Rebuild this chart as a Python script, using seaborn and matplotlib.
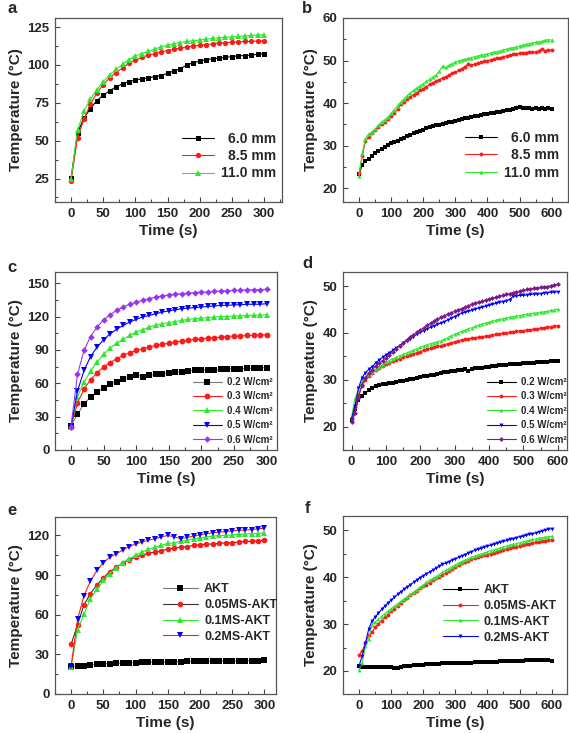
import numpy as np
import matplotlib
matplotlib.use("Agg")
import matplotlib.pyplot as plt
from matplotlib.ticker import AutoMinorLocator
import seaborn as sns

# ---- data ----
t_300 = np.arange(0, 301, 10)
t_600 = np.arange(0, 601, 10)

# a: sample thickness, 0-300 s
a_labels = ["6.0 mm", "8.5 mm", "11.0 mm"]
a_60 = [25.5, 55, 65, 71, 76.5, 80, 83, 85.5, 87.5, 89, 90, 90.8, 91.5, 92.3, 93, 94.5,
        96, 97.5, 100, 101.5, 102.5, 103.5, 104, 104.5, 105, 105.5, 106, 106.2, 106.5, 107, 107.5]
a_85 = [23.5, 52, 64, 74, 81.5, 87, 91.5, 95, 98, 101, 103, 105, 106.5, 107.5, 108.5, 109.5,
        110.5, 111, 112, 112.5, 113, 113.5, 114, 114.5, 114.8, 115, 115.2, 115.5, 115.6, 115.8, 116]
a_110 = [25, 57, 69.5, 77.5, 83.5, 89, 93.5, 97, 100.5, 103.5, 106, 107.5, 109, 110.5, 112, 113,
         114, 114.8, 115.5, 116, 116.5, 117, 117.5, 118, 118.3, 118.5, 118.8, 119.2, 119.5, 119.8, 120]

# b: sample thickness, 0-600 s
b_60 = [23.3, 25.5, 26.5, 27.0, 27.6, 28.2, 28.7, 29.2, 29.7, 30.1, 30.6, 30.9, 31.1, 31.5, 31.9,
        32.2, 32.6, 32.9, 33.2, 33.5, 33.8, 34.1, 34.3, 34.6, 34.8, 34.9, 35.1, 35.3, 35.5, 35.7,
        35.9, 36.1, 36.3, 36.5, 36.6, 36.8, 37.0, 37.1, 37.3, 37.4, 37.5, 37.7, 37.8, 37.9, 38.0,
        38.2, 38.3, 38.5, 38.6, 38.8, 39.0, 38.9, 38.8, 38.8, 38.7, 38.8, 38.7, 38.8, 38.7, 38.8, 38.7]
b_85 = [23.5, 27.6, 31.1, 32.1, 33.0, 33.8, 34.5, 35.0, 35.5, 36.2, 36.9, 37.6, 38.6, 39.7, 40.3,
        40.9, 41.5, 42.0, 42.5, 43.0, 43.4, 43.9, 44.4, 44.8, 45.2, 45.5, 45.9, 46.2, 46.6, 47.0,
        47.3, 47.7, 48.1, 48.6, 49.2, 48.9, 49.2, 49.4, 49.6, 49.8, 50.0, 50.2, 50.4, 50.6, 50.7,
        50.9, 51.1, 51.3, 51.5, 51.6, 51.7, 51.8, 51.9, 52.0, 52.1, 52.0, 52.3, 52.8, 52.2, 52.6, 52.4]
b_110 = [22.8, 28.2, 31.7, 32.8, 33.2, 33.9, 34.8, 35.6, 36.1, 36.7, 37.6, 38.5, 39.4, 40.3, 41.0,
         41.8, 42.5, 43.0, 43.6, 44.1, 44.6, 45.1, 45.6, 46.1, 46.6, 47.5, 48.7, 48.4, 48.9, 49.3,
         49.6, 49.9, 50.1, 50.3, 50.5, 50.7, 50.9, 51.1, 51.3, 51.4, 51.6, 51.8, 52.0, 52.1, 52.3,
         52.5, 52.7, 52.9, 53.0, 53.2, 53.4, 53.6, 53.8, 54.0, 54.1, 54.3, 54.4, 54.5, 54.8, 54.9, 54.8]

# c: power density, 0-300 s
power_labels = ["0.2 W/cm²", "0.3 W/cm²", "0.4 W/cm²", "0.5 W/cm²", "0.6 W/cm²"]
c_02 = [22, 32, 41.5, 47.5, 52, 56, 59, 61.5, 63.5, 65.5, 67.5, 66, 67, 68, 68.5, 69.5,
        70, 70.5, 71, 71.5, 71.5, 72, 72, 72.5, 73, 73, 73, 73.5, 73.5, 74, 74]
c_03 = [21, 42, 55, 63, 69.5, 74.5, 78.5, 82, 85, 87.5, 89.5, 91, 92.5, 94, 95, 96,
        97, 98, 98.5, 99.5, 100, 100.5, 101, 101.5, 102, 102.5, 102.5, 103, 103, 103.5, 103.5]
c_04 = [21, 48, 61, 71, 79, 86, 91.5, 96, 99.5, 103, 106, 108, 110.5, 112, 113.5, 114.5,
        115.5, 116.5, 117.5, 118, 118.5, 119, 119.5, 120, 120, 120.5, 120.5, 121, 121, 121.5, 121.5]
c_05 = [21, 53, 71.5, 84, 92.5, 99, 104.5, 108.5, 112, 115, 117.5, 119.5, 121, 122.5, 124, 125,
        126, 127, 127.5, 128, 128.5, 129, 129.5, 130, 130, 130.5, 130.5, 131, 131, 131, 131.5]
c_06 = [21, 68, 89.5, 102, 110.5, 117, 121.5, 125.5, 128.5, 131, 133, 134.5, 136, 137.5, 138.5, 139.5,
        140, 140.5, 141, 141.5, 142, 142, 142.5, 143, 143, 143.5, 143.5, 144, 144, 144, 144.5]

# d: power density, 0-600 s
d_02 = [21.3, 23.8, 25.6, 26.6, 27.1, 27.8, 28.2, 28.6, 28.8, 29.0, 29.1, 29.3, 29.4, 29.6, 29.7,
        29.8, 30.0, 30.1, 30.2, 30.4, 30.5, 30.7, 30.8, 31.0, 31.1, 31.3, 31.4, 31.6, 31.7, 31.8,
        31.9, 32.0, 32.1, 32.2, 31.9, 32.2, 32.4, 32.5, 32.6, 32.7, 32.8, 32.9, 33.0, 33.1, 33.1,
        33.2, 33.3, 33.3, 33.4, 33.4, 33.5, 33.5, 33.6, 33.6, 33.7, 33.7, 33.8, 33.8, 33.9, 34.0, 34.1]
d_03 = [21.7, 24.2, 26.7, 28.6, 29.9, 30.9, 31.5, 32.0, 32.5, 32.9, 33.3, 33.6, 33.9, 34.2, 34.5,
        34.8, 35.0, 35.3, 35.5, 35.8, 36.0, 36.3, 36.5, 36.7, 36.9, 37.1, 37.3, 37.5, 37.7, 37.9,
        38.1, 38.3, 38.5, 38.6, 38.7, 38.9, 39.0, 39.1, 39.2, 39.3, 39.4, 39.6, 39.7, 39.8, 39.9,
        40.0, 40.1, 40.2, 40.3, 40.4, 40.5, 40.6, 40.7, 40.8, 40.9, 41.0, 41.1, 41.2, 41.3, 41.4, 41.5]
d_04 = [22.1, 26.0, 27.8, 29.6, 30.6, 31.2, 31.7, 32.2, 32.7, 33.2, 33.7, 34.1, 34.5, 34.8, 35.1,
        35.4, 35.7, 36.0, 36.3, 36.6, 36.9, 37.2, 37.5, 37.7, 37.9, 38.1, 38.3, 38.6, 39.0, 39.4,
        39.7, 40.0, 40.3, 40.6, 40.9, 41.1, 41.4, 41.7, 41.9, 42.1, 42.3, 42.5, 42.7, 42.9, 43.0,
        43.2, 43.3, 43.5, 43.6, 43.7, 43.9, 44.0, 44.1, 44.2, 44.3, 44.4, 44.5, 44.6, 44.8, 44.9, 45.1]
d_05 = [21.7, 24.5, 28.2, 30.4, 31.5, 32.2, 32.8, 33.6, 34.2, 34.8, 35.3, 35.8, 36.3, 36.8, 37.3,
        37.8, 38.3, 38.8, 39.2, 39.7, 40.1, 40.5, 40.9, 41.2, 41.5, 41.8, 42.1, 42.4, 42.8, 43.1,
        43.5, 43.9, 44.2, 44.4, 44.6, 44.8, 45.1, 45.3, 45.5, 45.7, 45.9, 46.1, 46.3, 46.5, 46.7,
        46.9, 47.1, 47.8, 47.9, 48.0, 48.0, 48.1, 48.2, 48.3, 48.3, 48.4, 48.5, 48.6, 48.7, 48.7, 48.8]
d_06 = [21.0, 22.8, 26.2, 28.9, 30.4, 31.4, 32.1, 32.9, 33.5, 34.1, 34.7, 35.3, 35.9, 36.6, 37.3,
        37.9, 38.5, 39.1, 39.6, 40.1, 40.6, 41.1, 41.6, 42.1, 42.5, 42.9, 43.3, 43.7, 44.0, 44.3,
        44.6, 44.9, 45.2, 45.5, 45.8, 46.1, 46.4, 46.6, 46.8, 47.0, 47.2, 47.4, 47.6, 47.8, 48.0,
        48.2, 48.4, 48.6, 48.8, 48.9, 49.1, 49.3, 49.4, 49.5, 49.6, 49.7, 49.8, 49.9, 50.1, 50.3, 50.4]

# e: MS content, 0-300 s
ms_labels = ["AKT", "0.05MS-AKT", "0.1MS-AKT", "0.2MS-AKT"]
e_akt = [20.5, 21, 21.5, 22, 22.5, 22.8, 23, 23.2, 23.5, 23.7, 23.8, 24, 24, 24.2, 24.3, 24.4,
         24.5, 24.6, 24.7, 24.8, 24.8, 24.9, 25, 25, 25, 25.1, 25.2, 25.2, 25.3, 25.3, 25.4]
e_005 = [37.5, 52.5, 67.5, 76, 82.5, 88, 92.5, 96, 99, 101.5, 103.5, 105, 106.5, 107.5, 108.5, 109.5,
         110.5, 111, 111.5, 112.5, 113, 113.5, 113.5, 114, 114.5, 114.5, 115, 115.5, 115.5, 116, 116.5]
e_01 = [20.5, 48.5, 60.5, 72, 79.5, 86, 91, 95.5, 99.5, 102.5, 105, 107.5, 109.5, 111, 112.5, 114,
        114.5, 115.5, 116.5, 117.5, 118, 119, 119.5, 120, 120, 120.5, 121, 121, 121.5, 121.5, 122]
e_02 = [21, 56.5, 74.5, 85.5, 93.5, 99.5, 103.5, 106, 109, 111.5, 113.5, 115, 116.5, 117.5, 119, 120,
        119, 117.5, 118.5, 119.5, 120.5, 121.5, 122, 122.5, 123, 123.5, 124, 124, 124.5, 125, 125.5]

# f: MS content, 0-600 s
f_akt = [21.0, 20.9, 20.9, 20.9, 20.8, 20.8, 20.8, 20.8, 20.8, 20.8, 20.8, 20.7, 20.7, 20.9, 21.0,
         21.1, 21.1, 21.2, 21.2, 21.3, 21.3, 21.4, 21.4, 21.5, 21.5, 21.5, 21.6, 21.6, 21.6, 21.7,
         21.7, 21.7, 21.8, 21.8, 21.8, 21.8, 21.9, 21.9, 21.9, 21.9, 22.0, 22.0, 22.0, 22.0, 22.1,
         22.1, 22.1, 22.1, 22.2, 22.2, 22.2, 22.2, 22.3, 22.3, 22.3, 22.3, 22.4, 22.4, 22.4, 22.3, 22.2]
f_005 = [23.3, 24.3, 25.9, 27.6, 28.2, 29.3, 30.0, 30.7, 31.4, 32.0, 32.7, 33.3, 33.9, 34.5, 35.1,
         35.6, 36.1, 36.6, 37.1, 37.6, 38.0, 38.4, 38.8, 39.3, 39.7, 40.1, 40.5, 40.9, 41.3, 41.7,
         42.1, 42.5, 42.9, 43.2, 43.5, 43.8, 44.0, 44.2, 44.4, 44.6, 44.8, 45.0, 45.2, 45.4, 45.6,
         45.8, 46.0, 46.2, 46.3, 46.5, 46.7, 46.8, 47.0, 47.1, 47.2, 47.4, 47.5, 47.6, 47.7, 47.8, 47.9]
f_01 = [20.2, 21.8, 25.3, 26.8, 29.8, 30.4, 31.0, 31.6, 32.2, 32.7, 33.3, 33.8, 34.3, 34.8, 35.3,
        35.8, 36.3, 36.8, 37.3, 37.8, 38.3, 38.9, 39.3, 39.7, 40.1, 40.5, 41.0, 41.4, 41.8, 42.2,
        42.6, 43.0, 43.3, 43.6, 43.9, 44.2, 44.5, 44.7, 44.9, 45.1, 45.4, 45.6, 45.8, 46.0, 46.2,
        46.4, 46.6, 46.8, 47.0, 47.1, 47.3, 47.5, 47.7, 47.8, 48.0, 48.1, 48.3, 48.4, 48.5, 48.6, 48.7]
f_02 = [21.1, 23.2, 26.0, 28.9, 30.6, 31.5, 32.3, 33.1, 33.8, 34.5, 35.1, 35.7, 36.3, 36.9, 37.4,
        37.9, 38.4, 38.9, 39.4, 39.9, 40.3, 40.7, 41.1, 41.5, 41.9, 42.3, 42.7, 43.0, 43.3, 43.6,
        43.9, 44.2, 44.5, 44.8, 45.1, 45.4, 45.7, 45.9, 46.1, 46.4, 46.6, 46.8, 47.0, 47.2, 47.4,
        47.6, 47.8, 48.0, 48.2, 48.4, 48.6, 48.7, 48.9, 49.1, 49.2, 49.4, 49.6, 49.8, 50.0, 50.2, 50.3]

BLACK, RED, GREEN, BLUE = "#000000", "#ff1a1a", "#2ee62e", "#0000ff"
VIOLET, PURPLE, GRAY = "#9a33f0", "#7a1a86", "#777777"

sns.set_theme(style="ticks")
plt.rcParams["font.family"] = ["Liberation Sans", "DejaVu Sans"]
plt.rcParams["font.weight"] = "bold"
plt.rcParams["axes.labelweight"] = "bold"

fig = plt.figure(figsize=(5.69, 7.33), dpi=100)
W, H = 569, 733


def make_axes(x0, y0, x1, y1):
    # pixel box (top-left origin) -> figure fraction
    return fig.add_axes([x0 / W, 1 - y1 / H, (x1 - x0) / W, (y1 - y0) / H])


def draw(ax, t, y, label, color, marker, ms, line_color=None):
    sns.lineplot(x=t, y=y, ax=ax, color=line_color or color, marker=marker,
                 markersize=ms, markerfacecolor=color, markeredgecolor=color,
                 markeredgewidth=0, linewidth=0.8, label=label, errorbar=None, sort=False)


def style(ax, xlim, ylim, xticks, yticks):
    ax.set_xlim(*xlim)
    ax.set_ylim(*ylim)
    ax.set_xticks(xticks)
    ax.set_yticks(yticks)
    ax.xaxis.set_minor_locator(AutoMinorLocator(2))
    ax.yaxis.set_minor_locator(AutoMinorLocator(2))
    ax.tick_params(which="both", direction="in", top=False, right=False,
                   color="#444444", width=0.8, labelsize=9.5, pad=4)
    ax.tick_params(which="major", length=3.5)
    ax.tick_params(which="minor", length=2)
    for s in ax.spines.values():
        s.set_visible(True)
        s.set_color("#555555")
        s.set_linewidth(0.9)
    for lab in ax.get_xticklabels() + ax.get_yticklabels():
        lab.set_fontweight("bold")
    ax.set_xlabel("Time (s)", fontsize=11, fontweight="bold", labelpad=3)
    ax.set_ylabel("Temperature (°C)", fontsize=11, fontweight="bold", labelpad=3)


def legend(ax, center, size, hl, spacing, right_align=False):
    leg = ax.legend(loc="center", bbox_to_anchor=center, frameon=False,
                    prop={"weight": "bold", "size": size}, handlelength=hl,
                    handletextpad=0.5, labelspacing=spacing, borderpad=0, borderaxespad=0)
    if right_align:
        # Origin-style right-aligned legend labels
        r = fig.canvas.get_renderer()
        texts = leg.get_texts()
        widths = [t.get_window_extent(r).width for t in texts]
        for t, w in zip(texts, widths):
            t.set_x(max(widths) - w)
    return leg


# a
ax = make_axes(55, 18, 282, 202)
draw(ax, t_300, a_60, a_labels[0], BLACK, "s", 3.6)
draw(ax, t_300, a_85, a_labels[1], RED, "o", 3.8)
draw(ax, t_300, a_110, a_labels[2], GREEN, "^", 4.2)
style(ax, (-25, 328), (9.5, 131), range(0, 301, 50), range(25, 126, 25))
legend(ax, (0.765, 0.25), 10, 2.3, 0.25, right_align=True)

# b
ax = make_axes(343, 18, 568, 202)
draw(ax, t_600, b_60, a_labels[0], BLACK, "s", 2.6)
draw(ax, t_600, b_85, a_labels[1], RED, "o", 2.8)
draw(ax, t_600, b_110, a_labels[2], GREEN, "^", 3.0)
style(ax, (-50, 651), (16.8, 60), range(0, 601, 100), range(20, 61, 10))
legend(ax, (0.753, 0.255), 10, 2.3, 0.25, right_align=True)

# c
ax = make_axes(55, 272, 277, 450)
c_series = [c_02, c_03, c_04, c_05, c_06]
c_colors = [BLACK, RED, GREEN, BLUE, VIOLET]
c_lines = [GRAY, RED, GREEN, BLUE, VIOLET]
c_marks = ["s", "o", "^", "v", "D"]
for y, lab, col, lc, mk in zip(c_series, power_labels, c_colors, c_lines, c_marks):
    draw(ax, t_300, y, lab, col, mk, 4.2 if mk != "D" else 3.3, lc)
style(ax, (-24.5, 316), (0, 160), range(0, 301, 50), range(0, 151, 30))
legend(ax, (0.80, 0.22), 7, 3.0, 0.45)

# d
ax = make_axes(343, 272, 567, 450)
d_series = [d_02, d_03, d_04, d_05, d_06]
d_colors = [BLACK, RED, GREEN, BLUE, PURPLE]
for y, lab, col, mk in zip(d_series, power_labels, d_colors, c_marks):
    draw(ax, t_600, y, lab, col, mk, 2.8 if mk != "D" else 2.5)
style(ax, (-25, 627), (15, 53), range(0, 601, 100), range(20, 51, 10))
legend(ax, (0.82, 0.22), 7, 3.0, 0.45)

# e
ax = make_axes(55, 517, 276, 694)
e_series = [e_akt, e_005, e_01, e_02]
e_colors = [BLACK, RED, GREEN, BLUE]
e_lines = [GRAY, "#333333", GREEN, RED]
e_marks = ["s", "o", "^", "v"]
for y, lab, col, lc, mk in zip(e_series, ms_labels, e_colors, e_lines, e_marks):
    draw(ax, t_300, y, lab, col, mk, 4.0, lc)
style(ax, (-25, 318), (0, 134), range(0, 301, 50), range(0, 121, 30))
legend(ax, (0.747, 0.457), 9, 2.8, 0.3)

# f
ax = make_axes(343, 516, 567, 694)
f_series = [f_akt, f_005, f_01, f_02]
for y, lab, col, mk in zip(f_series, ms_labels, e_colors, e_marks):
    draw(ax, t_600, y, lab, col, mk, 2.8)
style(ax, (-50, 648), (15.1, 53), range(0, 601, 100), range(20, 51, 10))
legend(ax, (0.70, 0.45), 9, 2.8, 0.3)

# panel letters
for letter, (px, py) in zip("abcdef", [(7, 13), (302, 13), (7, 272), (302, 268), (7, 515), (305, 513)]):
    fig.text(px / W, 1 - py / H, letter, fontsize=12, fontweight="bold", ha="left", va="baseline")

fig.savefig("out.png", dpi=100, facecolor="white")
